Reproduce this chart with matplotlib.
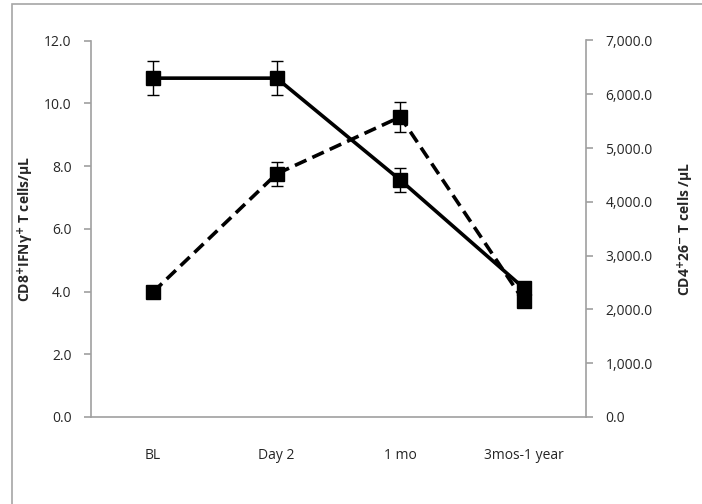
import matplotlib
matplotlib.use("Agg")
import matplotlib.pyplot as plt
from matplotlib.patches import Rectangle

categories = ["BL", "Day 2", "1 mo", "3mos-1 year"]
cd8_ifng = [10.8, 10.8, 7.55, 4.1]
cd8_ifng_err = [0.55, 0.55, 0.38, 0.0]
cd4_26neg = [2320, 4520, 5580, 2150]
cd4_26neg_err = [0, 224, 280, 0]
left_ticks = [0, 2, 4, 6, 8, 10, 12]
right_ticks = [0, 1000, 2000, 3000, 4000, 5000, 6000, 7000]

plt.rcParams['font.family'] = ['Open Sans', 'DejaVu Sans']
W, H = 702, 504
fig = plt.figure(figsize=(W / 100, H / 100), dpi=100)
ax = fig.add_axes([91 / W, 1 - 417 / H, (586 - 91) / W, (417 - 40.5) / H])
ax2 = ax.twinx()

# outer frame
fig.patches.append(Rectangle((12 / W, -0.2), 1.5, 1.2 - 4 / H, transform=fig.transFigure,
                             fill=False, edgecolor='#a6a6a6', linewidth=1.2))

x = list(range(len(categories)))
ax.errorbar(x, cd8_ifng, yerr=cd8_ifng_err, color='black', linewidth=2.6, marker='s',
            markersize=9.5, ecolor='black', elinewidth=1.0, capsize=4.5, capthick=1.0, zorder=3)
ax2.errorbar(x, cd4_26neg, yerr=cd4_26neg_err, color='black', linewidth=2.6, linestyle=(0, (3.5, 1.8)),
             marker='s', markersize=9.5, ecolor='black', elinewidth=1.0, capsize=4.5, capthick=1.0, zorder=3)

ax.set_xlim(-0.5, len(categories) - 0.5)
ax.set_ylim(0, 12)
ax2.set_ylim(0, 7000)
ax.set_yticks(left_ticks)
ax.set_yticklabels([f"{v:.1f}" for v in left_ticks])
ax2.set_yticks(right_ticks)
ax2.set_yticklabels([f"{v:,.1f}" for v in right_ticks])
ax.set_xticks(x)
ax.set_xticklabels(categories)

spine_c = '#a0a0a0'
for a in (ax, ax2):
    for s in a.spines.values():
        s.set_color(spine_c)
        s.set_linewidth(1.2)
    a.spines['top'].set_visible(False)
ax.spines['right'].set_visible(False)
ax2.spines['left'].set_visible(False)
ax2.spines['bottom'].set_visible(False)

ax.tick_params(axis='y', direction='out', length=5, width=1.2, color=spine_c, pad=9,
               labelsize=10, labelcolor='#262626')
ax2.tick_params(axis='y', direction='out', length=5, width=1.2, color=spine_c, pad=9,
                labelsize=10, labelcolor='#262626')
ax.tick_params(axis='x', length=0, pad=22, labelsize=10, labelcolor='#262626')

ax.set_ylabel(r"CD8$^{\mathbf{+}}$IFNγ$^{\mathbf{+}}$ T cells/µL", fontsize=10, fontweight='bold',
              color='#262626')
ax.yaxis.set_label_coords(-0.112, 0.5)
ax2.set_ylabel(r"CD4$^{\mathbf{+}}$26$^{\mathbf{-}}$ T cells /µL", fontsize=10, fontweight='bold',
               color='#262626', rotation=90)
ax2.yaxis.set_label_coords(1.182, 0.5)

fig.savefig("out.png", dpi=100)
